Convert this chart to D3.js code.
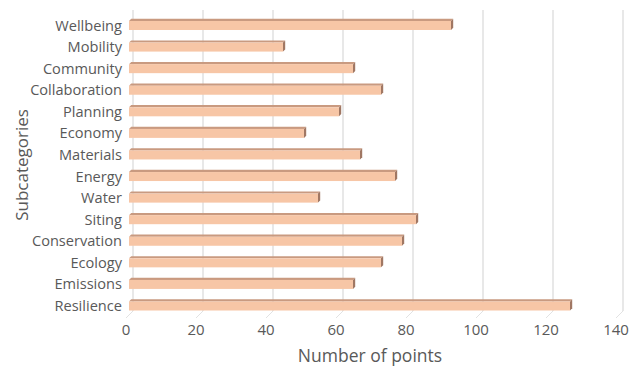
<!DOCTYPE html>
<html>
<head>
<meta charset="utf-8">
<script src="https://cdn.jsdelivr.net/npm/d3@7"></script>
<style>
  html, body { margin: 0; padding: 0; background: #fff; }
  svg { display: block; }
  text { font-family: "Open Sans", sans-serif; fill: #595959; }
</style>
</head>
<body>
<svg id="chart" width="640" height="366"></svg>
<script>
// Points per subcategory
const categories = ["Wellbeing", "Mobility", "Community", "Collaboration", "Planning", "Economy",
  "Materials", "Energy", "Water", "Siting", "Conservation", "Ecology", "Emissions", "Resilience"];
const points = [92, 44, 64, 72, 60, 50, 66, 76, 54, 82, 78, 72, 64, 126];
const xTicks = [0, 20, 40, 60, 80, 100, 120, 140];

const svg = d3.select("#chart");

// Depth offset of the 3-D floor (back wall vs front edge)
const depthX = 7, depthY = 7;
const wallTop = 10, wallBottom = 311;

const xBack = d3.scaleLinear().domain([0, 140]).range([133, 623]);
const xFront = d3.scaleLinear().domain([0, 140]).range([133 - depthX, 623 - depthX]);
const xBar = d3.scaleLinear().domain([0, 140]).range([129, 619]);
const y = d3.scalePoint().domain(categories).range([25.5, 306]);

// Gridlines on the back wall, bending forward along the floor
const grid = svg.append("g");
grid.selectAll("line.v").data(xTicks).join("line")
  .attr("x1", d => xBack(d)).attr("x2", d => xBack(d))
  .attr("y1", wallTop).attr("y2", wallBottom)
  .attr("stroke", "#d9d9d9").attr("stroke-width", 1.2);
grid.selectAll("line.f").data(xTicks).join("line")
  .attr("x1", d => xBack(d)).attr("x2", d => xFront(d))
  .attr("y1", wallBottom).attr("y2", wallBottom + depthY)
  .attr("stroke", "#e2e2e2").attr("stroke-width", 1);

// 3-D bars: front face, top face and end face
const faceH = 9, bd = 2.2;
const bars = svg.append("g").selectAll("g").data(categories).join("g");
bars.append("path")
  .attr("d", (c, i) => {
    const x0 = xBar(0), x1 = xBar(points[i]), yt = y(c) - faceH / 2;
    return `M${x0},${yt} L${x0 + bd},${yt - bd} L${x1 + bd},${yt - bd} L${x1},${yt} Z`;
  })
  .attr("fill", "#c99a80");
bars.append("path")
  .attr("d", (c, i) => {
    const x1 = xBar(points[i]), yt = y(c) - faceH / 2;
    return `M${x1},${yt} L${x1 + bd},${yt - bd} L${x1 + bd},${yt - bd + faceH} L${x1},${yt + faceH} Z`;
  })
  .attr("fill", "#a07763");
bars.append("rect")
  .attr("x", xBar(0))
  .attr("y", c => y(c) - faceH / 2)
  .attr("width", (c, i) => xBar(points[i]) - xBar(0))
  .attr("height", faceH)
  .attr("fill", "#f7c6a6");

// Category labels
svg.append("g").selectAll("text").data(categories).join("text")
  .attr("x", 122)
  .attr("y", c => y(c) - 1)
  .attr("text-anchor", "end")
  .attr("dominant-baseline", "central")
  .attr("font-size", 14.6)
  .text(d => d);

// Value axis labels along the front edge
svg.append("g").selectAll("text").data(xTicks).join("text")
  .attr("x", d => xFront(d))
  .attr("y", 329)
  .attr("text-anchor", "middle")
  .attr("dominant-baseline", "central")
  .attr("font-size", 15)
  .text(d => d);

// Axis titles
svg.append("text")
  .attr("x", 370).attr("y", 355)
  .attr("text-anchor", "middle").attr("dominant-baseline", "central")
  .attr("font-size", 17.5)
  .text("Number of points");
svg.append("text")
  .attr("transform", "translate(21,165) rotate(-90)")
  .attr("text-anchor", "middle").attr("dominant-baseline", "central")
  .attr("font-size", 17)
  .text("Subcategories");
</script>
</body>
</html>
